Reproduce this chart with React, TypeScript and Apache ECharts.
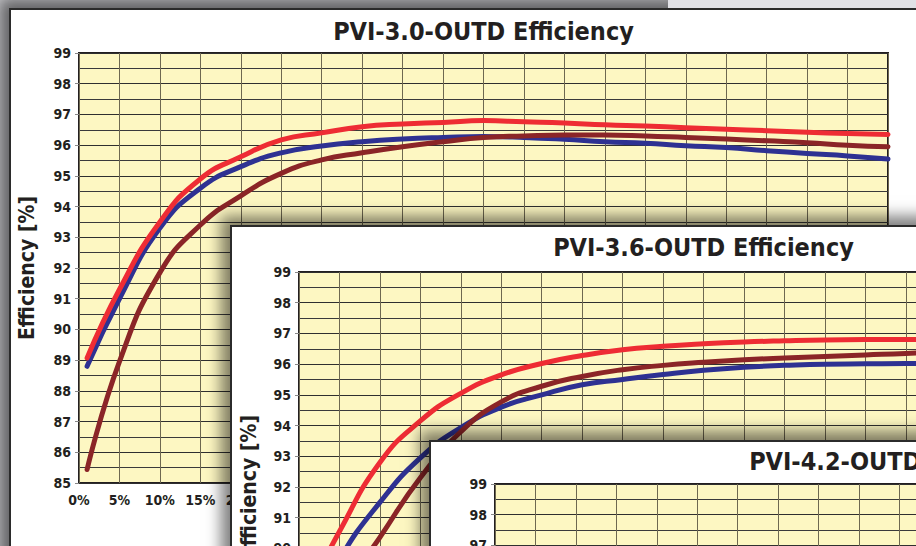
import React, { useEffect, useRef } from "react";
import * as echarts from "echarts";

// Load (% of nominal power) at which each efficiency value was read
const loadPct = [1, 5, 10, 15, 20, 25, 30, 35, 40, 45, 50, 55, 60, 65, 70, 75, 80, 85, 90, 95, 100];

// PVI-3.0-OUTD efficiency [%]
const p30Blue = [88.8, 91.0, 93.3, 94.6, 95.3, 95.75, 95.97, 96.11, 96.2, 96.25, 96.28, 96.25, 96.19, 96.11, 96.06, 95.98, 95.92, 95.82, 95.73, 95.65, 95.55];
const p30Brown = [85.44, 88.95, 91.85, 93.4, 94.35, 95.08, 95.52, 95.75, 95.95, 96.11, 96.25, 96.3, 96.33, 96.33, 96.3, 96.25, 96.2, 96.14, 96.08, 96.0, 95.95];
const p30Red = [89.07, 91.3, 93.5, 94.9, 95.62, 96.17, 96.4, 96.6, 96.69, 96.74, 96.8, 96.76, 96.72, 96.66, 96.62, 96.57, 96.52, 96.47, 96.42, 96.38, 96.35];

// PVI-3.6-OUTD efficiency [%]
const p36Blue = [87.6, 89.65, 91.5, 92.95, 93.93, 94.6, 95.0, 95.33, 95.5, 95.66, 95.8, 95.9, 95.96, 96.0, 96.01, 96.02, 96.02, 96.0, 95.98, 95.95, 95.9];
const p36Brown = [85.8, 88.4, 90.36, 92.3, 93.8, 94.77, 95.28, 95.6, 95.82, 95.96, 96.06, 96.14, 96.2, 96.25, 96.3, 96.35, 96.38, 96.38, 96.36, 96.33, 96.3];
const p36Red = [88.5, 90.55, 92.8, 94.15, 95.05, 95.65, 96.02, 96.28, 96.47, 96.58, 96.66, 96.72, 96.76, 96.79, 96.8, 96.8, 96.8, 96.78, 96.76, 96.73, 96.7];

const titles = ["PVI-3.0-OUTD Efficiency", "PVI-3.6-OUTD Efficiency", "PVI-4.2-OUTD Efficiency"];
const yAxisName = "Efficiency [%]";
const yMin = 85;
const yMax = 99;
const xMin = 0;
const xMax = 100;

const FONT = "'DejaVu Sans Condensed', 'Liberation Sans Narrow', sans-serif";
const INK = "#231f20";
const PLOT_BG = "#fdf7c2";
const BLUE = "#2e3192";
const BROWN = "#8b2527";
const RED = "#ee2c34";

type PanelProps = {
  left: number;
  top: number;
  width: number;
  height: number;
  title: string;
  gridLeft: number;
  gridTop: number;
  titleY: number;
  nameX: number;
  lines: { values: number[]; color: string }[];
  z: number;
};

function Panel(p: PanelProps) {
  const ref = useRef<HTMLDivElement>(null);
  useEffect(() => {
    if (!ref.current) return;
    const chart = echarts.init(ref.current, null, { renderer: "svg" });
    const plotW = 809;
    const plotH = 430;
    chart.setOption({
      animation: false,
      grid: {
        left: p.gridLeft,
        top: p.gridTop,
        width: plotW,
        height: plotH,
        show: true,
        backgroundColor: PLOT_BG,
        borderColor: INK,
        borderWidth: 2,
      },
      xAxis: {
        type: "value",
        min: xMin,
        max: xMax,
        interval: 5,
        axisLine: { show: false },
        axisTick: { show: false },
        axisLabel: {
          formatter: "{value}%",
          fontFamily: FONT,
          fontWeight: "bold",
          fontSize: 14,
          color: INK,
          margin: 10,
        },
        splitLine: { show: true, lineStyle: { color: "#6e6850", width: 1 } },
      },
      yAxis: {
        type: "value",
        min: yMin,
        max: yMax,
        interval: 1,
        axisLine: { show: false },
        axisTick: { show: true, length: 4, lineStyle: { color: "#888" } },
        axisLabel: {
          fontFamily: FONT,
          fontWeight: "bold",
          fontSize: 14,
          color: INK,
          margin: 8,
        },
        splitLine: { show: true, lineStyle: { color: "#2f2f2f", width: 1 } },
        minorTick: { show: false, splitNumber: 2 },
        minorSplitLine: { show: true, lineStyle: { color: "#3a3a3a", width: 1 } },
      },
      graphic: [
        {
          type: "text",
          x: p.gridLeft + plotW / 2,
          y: p.titleY,
          style: {
            text: p.title,
            font: `bold 25px ${FONT}`,
            fill: INK,
            align: "center",
            verticalAlign: "middle",
          },
        },
        {
          type: "text",
          x: p.nameX,
          y: p.gridTop + plotH / 2,
          rotation: Math.PI / 2,
          style: {
            text: yAxisName,
            font: `bold 21px ${FONT}`,
            fill: INK,
            align: "center",
            verticalAlign: "middle",
          },
        },
      ],
      series: p.lines.map((l) => ({
        type: "line",
        data: loadPct.map((x, i) => [x, l.values[i]]),
        smooth: 0.5,
        symbol: "none",
        lineStyle: { color: l.color, width: 5, cap: "round", join: "round" },
      })),
    });
    return () => chart.dispose();
  }, []);
  return (
    <div
      style={{
        position: "absolute",
        left: p.left,
        top: p.top,
        width: p.width,
        height: p.height,
        background: "#ffffff",
        border: "2px solid #2b2b2b",
        boxShadow: "-9px -9px 14px rgba(0,0,0,0.5)",
        zIndex: p.z,
      }}
    >
      <div ref={ref} style={{ width: p.width, height: p.height }} />
    </div>
  );
}

export default function App() {
  return (
    <div
      style={{
        position: "fixed",
        left: 0,
        top: 0,
        width: 916,
        height: 546,
        overflow: "hidden",
        background: "#c8c8cc",
      }}
    >
      <Panel
        left={9}
        top={8}
        width={1000}
        height={620}
        title={titles[0]}
        gridLeft={68}
        gridTop={43}
        titleY={21}
        nameX={16}
        z={1}
        lines={[
          { values: p30Blue, color: BLUE },
          { values: p30Brown, color: BROWN },
          { values: p30Red, color: RED },
        ]}
      />
      <div style={{ position: "absolute", left: 668, top: 0, width: 248, height: 8, background: "#e1e1e6", zIndex: 2 }} />
      <Panel
        left={230}
        top={225}
        width={1000}
        height={620}
        title={titles[1]}
        gridLeft={67}
        gridTop={45}
        titleY={20}
        nameX={17}
        z={3}
        lines={[
          { values: p36Blue, color: BLUE },
          { values: p36Brown, color: BROWN },
          { values: p36Red, color: RED },
        ]}
      />
      <Panel
        left={429}
        top={440}
        width={1000}
        height={620}
        title={titles[2]}
        gridLeft={64}
        gridTop={42}
        titleY={19}
        nameX={17}
        z={4}
        lines={[]}
      />
    </div>
  );
}
